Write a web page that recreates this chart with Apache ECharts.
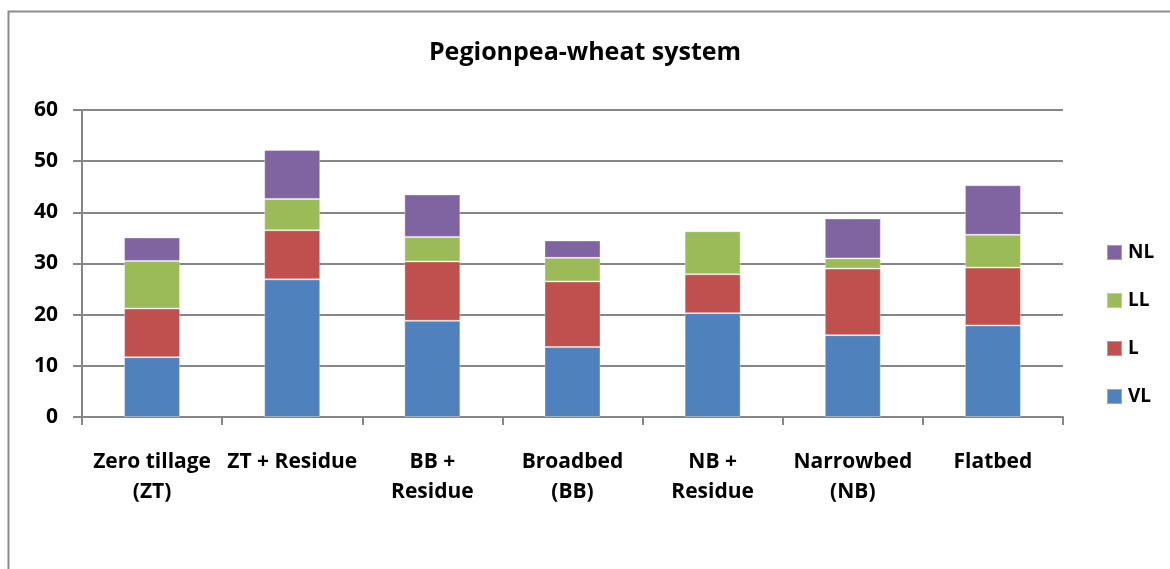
<!DOCTYPE html>
<html>
<head>
<meta charset="utf-8">
<script src="https://cdn.jsdelivr.net/npm/echarts@6/dist/echarts.min.js"></script>
<style>html,body{margin:0;padding:0;background:#fff;}#c{width:1170px;height:569px;}</style>
</head>
<body>
<div id="c"></div>
<script>
const categories = ['Zero tillage\n(ZT)', 'ZT + Residue', 'BB +\nResidue', 'Broadbed\n(BB)', 'NB +\nResidue', 'Narrowbed\n(NB)', 'Flatbed'];
const VL = [11.7, 26.9, 18.8, 13.7, 20.3, 16.0, 17.9];
const L  = [9.5, 9.6, 11.6, 12.8, 7.6, 13.0, 11.3];
const LL = [9.3, 6.1, 4.8, 4.6, 8.4, 2.0, 6.4];
const NL = [4.6, 9.6, 8.3, 3.4, 0.2, 7.8, 9.7];
const yTicks = [0, 10, 20, 30, 40, 50, 60];

const FONT = '"Open Sans", Lato, sans-serif';
const chart = echarts.init(document.getElementById('c'));
const mk = (name, data, color) => ({
  name, type: 'bar', stack: 'total', data, barWidth: 56,
  itemStyle: { color, borderColor: 'rgba(255,255,255,0.35)', borderWidth: 1 }
});
chart.setOption({
  animation: false,
  backgroundColor: '#fff',
  graphic: [{
    type: 'rect', left: 6, top: 9, shape: { width: 2000, height: 2000 },
    style: { fill: 'none', stroke: '#8c8c8c', lineWidth: 2 }, silent: true
  }],
  title: {
    text: 'Pegionpea-wheat system', left: 'center', top: 35,
    textStyle: { fontFamily: FONT, fontWeight: 'bold', fontSize: 25, color: '#000' }
  },
  legend: {
    orient: 'vertical', left: 1101, top: 238,
    itemWidth: 15, itemHeight: 15, itemGap: 29,
    icon: 'rect',
    data: ['NL', 'LL', 'L', 'VL'],
    textStyle: { fontFamily: FONT, fontWeight: 'bold', fontSize: 19, color: '#000', padding: [0, 0, 0, 1] }
  },
  grid: { left: 82, right: 107, top: 110, bottom: 152 },
  xAxis: {
    type: 'category', data: categories,
    axisLine: { lineStyle: { color: '#868686', width: 2 } },
    axisTick: { show: true, length: 8, lineStyle: { color: '#868686', width: 2 } },
    axisLabel: { fontFamily: FONT, fontWeight: 'bold', fontSize: 21, color: '#000', lineHeight: 30, margin: 30, interval: 0 }
  },
  yAxis: {
    type: 'value', min: 0, max: 60, interval: 10,
    axisLine: { show: true, lineStyle: { color: '#868686', width: 2 } },
    axisTick: { show: true, length: 9, lineStyle: { color: '#868686', width: 2 } },
    splitLine: { lineStyle: { color: '#868686', width: 2 } },
    axisLabel: { fontFamily: FONT, fontWeight: 'bold', fontSize: 21, color: '#000', margin: 24,
      formatter: v => yTicks.includes(v) ? String(v) : '' }
  },
  series: [
    mk('VL', VL, '#4F81BD'),
    mk('L', L, '#C0504D'),
    mk('LL', LL, '#9BBB59'),
    mk('NL', NL, '#8064A2')
  ]
});
</script>
</body>
</html>
